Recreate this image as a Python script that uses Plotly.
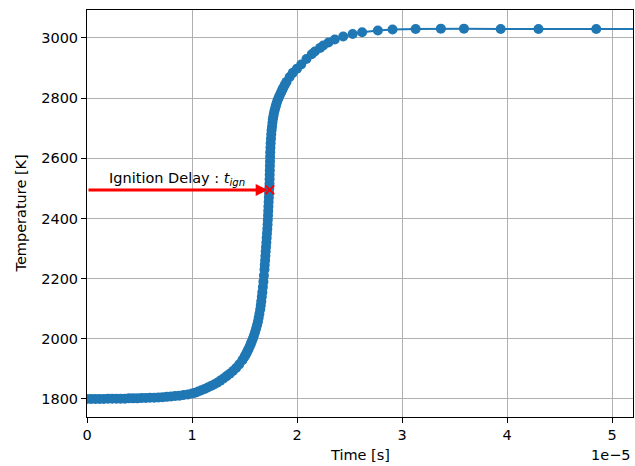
import plotly.graph_objects as go

# time in units of 1e-5 s
time_1e5 = [0.00, 0.04, 0.08, 0.12, 0.16, 0.20, 0.24, 0.28, 0.32, 0.36, 0.40, 0.44, 0.48,
            0.52, 0.56, 0.60, 0.64, 0.68, 0.72, 0.76, 0.80, 0.84, 0.88, 0.92, 0.96, 1.00,
            1.03, 1.06, 1.09, 1.12, 1.15, 1.18, 1.21, 1.24, 1.27, 1.30, 1.33, 1.36, 1.39,
            1.42, 1.45, 1.48,
            1.50, 1.51, 1.52, 1.53, 1.54, 1.55, 1.56, 1.57, 1.58, 1.59, 1.60, 1.61, 1.62,
            1.628, 1.635, 1.642, 1.65, 1.655, 1.66, 1.665, 1.67, 1.675, 1.68, 1.685, 1.69,
            1.693, 1.696, 1.699, 1.702, 1.705, 1.708, 1.711, 1.714, 1.717, 1.72, 1.722,
            1.724, 1.726, 1.728, 1.730, 1.732, 1.734, 1.736, 1.738, 1.739, 1.740, 1.741,
            1.742, 1.743, 1.744, 1.745, 1.747, 1.749, 1.752, 1.755, 1.758, 1.762, 1.766,
            1.77, 1.775, 1.78, 1.787, 1.795, 1.802, 1.81, 1.82, 1.83, 1.84, 1.85, 1.86,
            1.87, 1.885, 1.90, 1.93, 1.96, 2.00, 2.04, 2.09, 2.14, 2.17, 2.22, 2.25,
            2.30, 2.36, 2.44, 2.53, 2.62,
            2.77, 2.91, 3.13, 3.37, 3.59, 3.94, 4.30, 4.85, 5.50]
temperature_K = [1800, 1800, 1800, 1800, 1800, 1801, 1801, 1801, 1801, 1801, 1802, 1802, 1802,
                 1803, 1803, 1804, 1804, 1805, 1806, 1807, 1808, 1810, 1811, 1813, 1815, 1818,
                 1821, 1825, 1829, 1833, 1838, 1843, 1848, 1854, 1861, 1868, 1876, 1884, 1893,
                 1903, 1915, 1929,
                 1940, 1946, 1953, 1960, 1967, 1975, 1983, 1992, 2001, 2011, 2022, 2033, 2046,
                 2057, 2070, 2083, 2098, 2111, 2125, 2140, 2155, 2172, 2190, 2210, 2230,
                 2245, 2260, 2275, 2290, 2305, 2320, 2335, 2350, 2365, 2380, 2395,
                 2410, 2425, 2440, 2455, 2470, 2485, 2500, 2515, 2530, 2545, 2560,
                 2575, 2590, 2605, 2620, 2635, 2650, 2665, 2680, 2693, 2705, 2718,
                 2730, 2740, 2750, 2760, 2770, 2779, 2788, 2797, 2805, 2813, 2820, 2828,
                 2835, 2845, 2854, 2870, 2884, 2898, 2912, 2930, 2946, 2955, 2967, 2975,
                 2985, 2995, 3005, 3013, 3019,
                 3025, 3028, 3030, 3031, 3031, 3030, 3030, 3030, 3030]

ign_time = 1.74
ign_temp = 2495

x_ticks = [0, 1, 2, 3, 4, 5]
y_ticks = [1800, 2000, 2200, 2400, 2600, 2800, 3000]

FONT = "DejaVu Sans"
FS = 14.5
BLUE = "#1f77b4"

fig = go.Figure()
fig.add_trace(go.Scatter(
    x=time_1e5, y=temperature_K, mode="lines+markers",
    line=dict(color=BLUE, width=2),
    marker=dict(color=BLUE, size=10, line=dict(width=0)),
    showlegend=False))
fig.add_trace(go.Scatter(
    x=[ign_time], y=[ign_temp], mode="markers",
    marker=dict(symbol="x-thin", size=9, line=dict(color="red", width=2)),
    showlegend=False))

fig.add_annotation(x=ign_time, y=ign_temp, ax=0, ay=ign_temp, xref="x", yref="y",
                   axref="x", ayref="y", showarrow=True, arrowhead=2, arrowsize=0.8,
                   arrowwidth=3, arrowcolor="red", standoff=2, text="")
fig.add_annotation(x=0.19, y=2530, xref="x", yref="y", showarrow=False,
                   text="Ignition Delay : <i>t</i><sub><i>ign</i></sub>",
                   xanchor="left", yanchor="middle", font=dict(size=FS, color="#000"))
fig.add_annotation(x=0.5, y=-0.094, xref="paper", yref="paper", showarrow=False,
                   text="Time [s]", xanchor="center", yanchor="middle",
                   font=dict(size=FS, color="#000"))
fig.add_annotation(x=1.0, y=-0.094, xref="paper", yref="paper", showarrow=False,
                   text="1e\u22125", xanchor="right", yanchor="middle",
                   font=dict(size=FS, color="#000"))
fig.add_annotation(x=-0.1227, y=0.5, xref="paper", yref="paper", showarrow=False,
                   text="Temperature [K]", textangle=-90, xanchor="center", yanchor="middle",
                   font=dict(size=FS, color="#000"))

axis_common = dict(showline=True, linecolor="black", linewidth=1, mirror=True,
                   ticks="outside", ticklen=5, tickwidth=1, tickcolor="black",
                   showgrid=True, gridcolor="#b0b0b0", gridwidth=1, zeroline=False,
                   tickfont=dict(size=FS, color="#000"))
fig.update_xaxes(range=[0, 5.2], tickvals=x_ticks, ticktext=[str(v) for v in x_ticks],
                 **axis_common)
fig.update_yaxes(range=[1740, 3093], tickvals=y_ticks, ticktext=[str(v) for v in y_ticks],
                 **axis_common)
fig.update_layout(width=635, height=466, margin=dict(l=87, r=2, t=10, b=49),
                  plot_bgcolor="white", paper_bgcolor="white",
                  font=dict(family=FONT, size=FS, color="#000"))
fig.write_html("out.html")
